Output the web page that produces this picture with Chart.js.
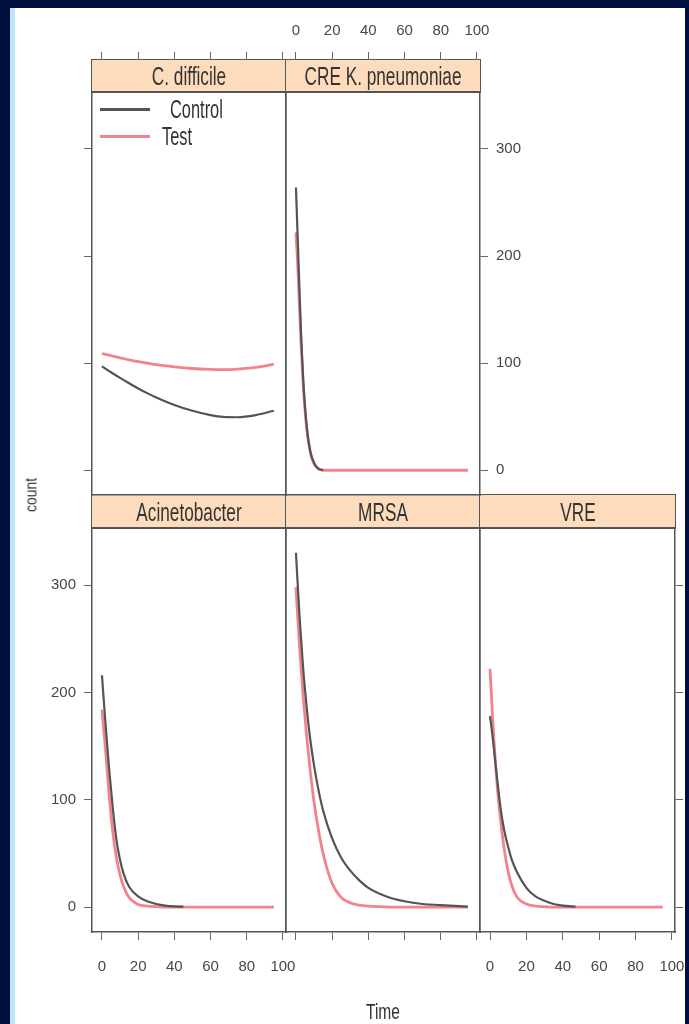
<!DOCTYPE html>
<html>
<head>
<meta charset="utf-8">
<script src="https://cdn.jsdelivr.net/npm/chart.js@4.4.0/dist/chart.umd.min.js"></script>
<style>
  body { margin: 0; width: 689px; height: 1024px; overflow: hidden; position: relative; background: #000e3d; }
  #lamina { position: absolute; left: 10px; top: 8px; width: 675px; height: 1016px; background: #fff; box-sizing: border-box; border-left: 5px solid #bfe5f9; }
  canvas { position: absolute; z-index: 2; }
  .tira { position: absolute; z-index: 1; background: #fcdcbc; border: 1.5px solid #555; box-sizing: border-box; }
  .texto { position: absolute; z-index: 3; color: #333; font-family: 'Liberation Sans', Arial, sans-serif; white-space: nowrap; }
  .linea { position: absolute; z-index: 3; height: 3px; }
</style>
</head>
<body>
<div id="lamina"></div>
<script>
'use strict'

// DATOS DEL GRÁFICO
const marcasTiempo = [0, 20, 40, 60, 80, 100];
const marcasConteo = [0, 100, 200, 300];
const nombresSeries = ['Control', 'Test'];

const cdiffTiempo = [0, 5, 10, 15, 20, 25, 30, 40, 50, 60, 67, 75, 85, 95];
const cdiffControl = [97, 91.5, 86.2, 81.2, 76.4, 72, 68, 61, 55.5, 51.5, 49.8, 49.5, 51.5, 55.5];
const cdiffTest = [109, 107, 105, 103, 101.5, 100, 98.5, 96.5, 95, 94.2, 94, 94.5, 96, 99];

const creTiempo = [0, 1, 2, 3, 4, 6, 8, 10, 12, 15, 20, 40, 60, 80, 95];
const creControl = [264, 215, 165, 120, 85, 40, 17, 7, 2, 0, null, null, null, null, null];
const creTest = [222, 190, 150, 112, 80, 38, 16, 6, 2, 0, 0, 0, 0, 0, 0];

const acinetoTiempo = [0, 2, 4, 6, 8, 10, 12, 15, 20, 25, 30, 35, 40, 45, 60, 80, 95];
const acinetoControl = [216, 170, 128, 92, 63, 44, 31, 19, 10, 5.5, 3, 1.5, 0.8, 0.5, null, null, null];
const acinetoTest = [184, 146, 104, 70, 46, 30, 19, 9, 2.5, 1, 0.5, 0, 0, 0, 0, 0, 0];

const mrsaTiempo = [0, 2, 4, 6, 8, 10, 12, 15, 20, 25, 30, 35, 40, 50, 60, 70, 80, 95];
const mrsaControl = [330, 270, 222, 185, 155, 132, 113, 90, 64, 46, 34, 25, 18, 10, 5.5, 3, 2, 0.5];
const mrsaTest = [298, 242, 196, 158, 125, 98, 76, 50, 22, 9, 4, 2, 1, 0.3, 0, 0, 0, 0];

const vreTiempo = [0, 1, 2, 4, 6, 8, 10, 12, 15, 20, 25, 30, 35, 40, 47, 60, 80, 95];
const vreControl = [178, 165, 150, 118, 90, 70, 56, 44, 32, 18, 10, 6, 3, 1.5, 0.5, null, null, null];
const vreTest = [222, 190, 160, 112, 78, 52, 33, 20, 9, 3, 1, 0.5, 0, 0, 0, 0, 0, 0];

// DISPOSICIÓN Y ESTILOS
const MARGEN = 60;
const COLUMNAS = [[92, 286], [286, 480], [480, 675]];
const FILAS = [[92, 495], [528, 932]];
const TIRAS = [[60, 92], [495, 528]];
const X_MIN = -5.5, X_MAX = 101.7;
const Y_MIN = -23.1, Y_MAX = 353.1;
const COLOR_CONTROL = '#545454';
const COLOR_TEST = '#f2838d';
const COLOR_MARCO = '#555';
const FUENTE = "'Liberation Sans', Arial, sans-serif";
const ESTRECHO = 'scaleX(0.82)';

// modo de cada eje: 0 nada, 1 solo marcas, 2 marcas y etiquetas
const paneles = [
  { nombre: 'C. difficile', col: 0, fila: 0, tiempo: cdiffTiempo, control: cdiffControl, test: cdiffTest, izq: 1, der: 0, abajo: 0, arriba: 1 },
  { nombre: 'CRE K. pneumoniae', col: 1, fila: 0, tiempo: creTiempo, control: creControl, test: creTest, izq: 0, der: 2, abajo: 0, arriba: 2 },
  { nombre: 'Acinetobacter', col: 0, fila: 1, tiempo: acinetoTiempo, control: acinetoControl, test: acinetoTest, izq: 2, der: 0, abajo: 2, arriba: 0 },
  { nombre: 'MRSA', col: 1, fila: 1, tiempo: mrsaTiempo, control: mrsaControl, test: mrsaTest, izq: 0, der: 0, abajo: 1, arriba: 0 },
  { nombre: 'VRE', col: 2, fila: 1, tiempo: vreTiempo, control: vreControl, test: vreTest, izq: 0, der: 1, abajo: 2, arriba: 0 }
];

function crearCanvas(x, y, w, h) {
  const canvas = document.createElement('canvas');
  canvas.width = w;
  canvas.height = h;
  canvas.style.left = x + 'px';
  canvas.style.top = y + 'px';
  canvas.style.width = w + 'px';
  canvas.style.height = h + 'px';
  document.body.appendChild(canvas);
  return canvas.getContext('2d');
}

function crearTexto(texto, x, y, tam, transformacion, origen) {
  const div = document.createElement('div');
  div.className = 'texto';
  div.textContent = texto;
  div.style.left = x + 'px';
  div.style.top = y + 'px';
  div.style.fontSize = tam + 'px';
  div.style.lineHeight = tam + 'px';
  div.style.transformOrigin = origen || 'center center';
  div.style.transform = transformacion;
  document.body.appendChild(div);
  return div;
}

// EJES
function ejeX(posicion, modo) {
  return {
    type: 'linear', position: posicion, min: X_MIN, max: X_MAX,
    afterBuildTicks: eje => { eje.ticks = marcasTiempo.map(v => ({ value: v })); },
    afterFit: eje => { eje.height = MARGEN; },
    border: { display: true, color: COLOR_MARCO, width: 1.5 },
    grid: { display: modo > 0, drawOnChartArea: false, drawTicks: true, tickLength: 8, tickColor: '#666', tickWidth: 1 },
    ticks: { display: modo > 1, padding: posicion === 'top' ? 12 : 18, color: '#474747', font: { family: FUENTE, size: 15 }, maxRotation: 0, autoSkip: false }
  };
}

function ejeY(posicion, modo) {
  return {
    type: 'linear', position: posicion, min: Y_MIN, max: Y_MAX,
    afterBuildTicks: eje => { eje.ticks = marcasConteo.map(v => ({ value: v })); },
    afterFit: eje => { eje.width = MARGEN; },
    border: { display: true, color: COLOR_MARCO, width: 1.5 },
    grid: { display: modo > 0, drawOnChartArea: false, drawTicks: true, tickLength: 8, tickColor: '#666', tickWidth: 1 },
    ticks: { display: modo > 1, padding: 8, color: '#474747', font: { family: FUENTE, size: 15 }, autoSkip: false }
  };
}

function puntos(tiempo, valores) {
  return tiempo.map((t, i) => ({ x: t, y: valores[i] })).filter(p => p.y !== null);
}

// PANEL CON SUS DOS CURVAS
function crearPanel(p) {
  const [x0, x1] = COLUMNAS[p.col];
  const [y0, y1] = FILAS[p.fila];
  const ctx = crearCanvas(x0 - MARGEN, y0 - MARGEN, x1 - x0 + 2 * MARGEN, y1 - y0 + 2 * MARGEN);
  const estilo = { pointRadius: 0, cubicInterpolationMode: 'monotone', fill: false };

  new Chart(ctx, {
    type: 'line',
    data: {
      datasets: [
        { label: nombresSeries[0], data: puntos(p.tiempo, p.control), borderColor: COLOR_CONTROL, borderWidth: 2.2, ...estilo },
        { label: nombresSeries[1], data: puntos(p.tiempo, p.test), borderColor: COLOR_TEST, borderWidth: 2.8, ...estilo }
      ]
    },
    options: {
      responsive: false,
      animation: false,
      events: [],
      layout: { autoPadding: false, padding: 0 },
      plugins: { legend: { display: false }, tooltip: { enabled: false } },
      scales: {
        x: ejeX('bottom', p.abajo),
        x2: ejeX('top', 0),
        y: ejeY('left', p.izq),
        y2: ejeY('right', p.der)
      }
    }
  });

  // tira con el nombre del panel
  const [t0, t1] = TIRAS[p.fila];
  const tira = document.createElement('div');
  tira.className = 'tira';
  tira.style.left = (x0 - 0.75) + 'px';
  tira.style.top = (t0 - 0.75) + 'px';
  tira.style.width = (x1 - x0 + 1.5) + 'px';
  tira.style.height = (t1 - t0 + 1.5) + 'px';
  document.body.appendChild(tira);
  crearTexto(p.nombre, (x0 + x1) / 2, (t0 + t1) / 2, 21, 'translate(-50%, -50%) ' + ESTRECHO + ' scaleY(1.2)');

  // eje superior por encima de la tira (fila de arriba)
  if (p.arriba > 0) crearEjeSuperior(x0, x1, t0, t1, p.arriba);
}

function crearEjeSuperior(x0, x1, t0, t1, modo) {
  const ctx = crearCanvas(x0 - MARGEN, t0 - MARGEN, x1 - x0 + 2 * MARGEN, t1 - t0 + 2 * MARGEN);
  const eje = ejeX('top', modo);
  eje.border = { display: false };
  new Chart(ctx, {
    type: 'line',
    data: { datasets: [] },
    options: {
      responsive: false,
      animation: false,
      events: [],
      layout: { autoPadding: false, padding: { left: MARGEN, right: MARGEN, bottom: MARGEN, top: 0 } },
      plugins: { legend: { display: false }, tooltip: { enabled: false } },
      scales: { x: eje, y: { display: false, min: 0, max: 1 } }
    }
  });
}

// LEYENDA Y TÍTULOS
function crearLeyenda() {
  const colores = [COLOR_CONTROL, COLOR_TEST];
  const filasY = [109, 136];
  const textoX = [170, 162];
  nombresSeries.forEach((nombre, i) => {
    const linea = document.createElement('div');
    linea.className = 'linea';
    linea.style.left = '100px';
    linea.style.width = '50px';
    linea.style.top = (filasY[i] - 1.5) + 'px';
    linea.style.background = colores[i];
    document.body.appendChild(linea);
    crearTexto(nombre, textoX[i], filasY[i] - 10, 20, ESTRECHO + ' scaleY(1.25)', 'left center');
  });
}

function inicializarGrafica() {
  paneles.forEach(crearPanel);
  crearLeyenda();
  crearTexto('count', 31, 495, 17, 'translate(-50%, -50%) rotate(-90deg) ' + ESTRECHO);
  crearTexto('Time', 383, 1012, 19, 'translate(-50%, -50%) ' + ESTRECHO + ' scaleY(1.15)');
}

inicializarGrafica();
</script>
</body>
</html>
